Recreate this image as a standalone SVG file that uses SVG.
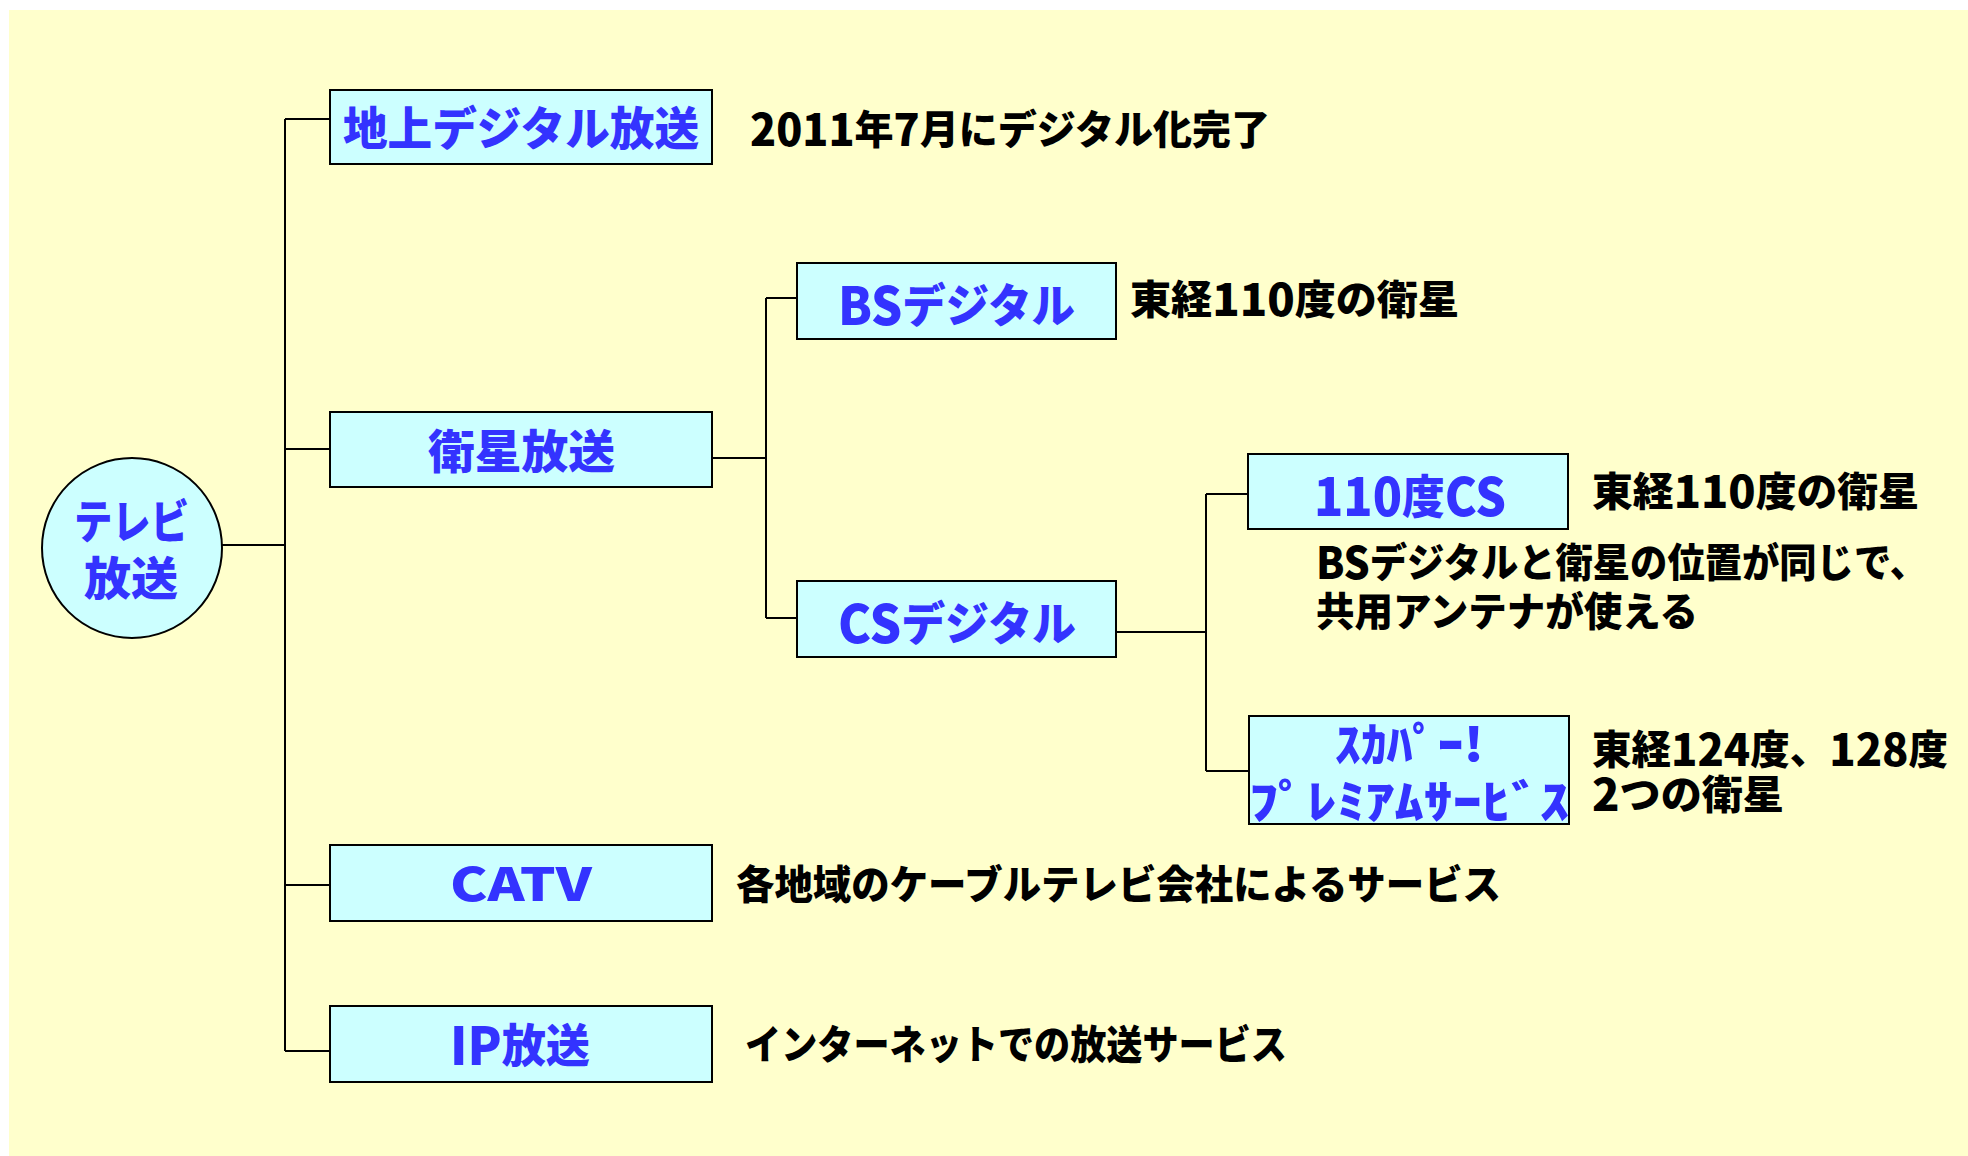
<svg xmlns="http://www.w3.org/2000/svg" width="1968" height="1156" viewBox="0 0 1968 1156">
<style>
.bg{fill:#FFFFCC}
.box{fill:#CCFFFF;stroke:#000;stroke-width:2}
.ln{stroke:#000;stroke-width:2;fill:none}
.bl{font-family:"Noto Sans CJK JP","Noto Sans",sans-serif;font-weight:900;fill:#3333FF;font-size:46px;dominant-baseline:central}
.bk{font-family:"Noto Sans CJK JP","Noto Sans",sans-serif;font-weight:900;fill:#000;font-size:40px;dominant-baseline:central}
.lat{font-size:52px}
.dg{font-size:44px}
</style>
<rect class="bg" x="9" y="10" width="1959" height="1146"/>
<g id="connectors">
<path class="ln" d="M285 119V1051M285 119H330M285 449H330M285 885H330M285 1051H330M222 545H285"/>
<path class="ln" d="M712 458H766M766 298V618M766 298H797M766 618H797"/>
<path class="ln" d="M1116 632H1206M1206 494V771M1206 494H1248M1206 771H1249"/>
</g>
<g id="tv">
<circle class="box" cx="132" cy="548" r="90"/>
<text class="bl"><tspan x="74" y="518" textLength="115" lengthAdjust="spacingAndGlyphs">テレビ</tspan><tspan x="84" y="575" textLength="94" lengthAdjust="spacingAndGlyphs">放送</tspan></text>
</g>
<g id="chijo">
<rect class="box" x="330" y="90" width="382" height="74"/>
<text class="bl" x="343" y="125" textLength="356" lengthAdjust="spacingAndGlyphs">地上デジタル放送</text>
</g>
<g id="eisei">
<rect class="box" x="330" y="412" width="382" height="75"/>
<text class="bl" x="428" y="448" textLength="187" lengthAdjust="spacingAndGlyphs">衛星放送</text>
</g>
<g id="catv">
<rect class="box" x="330" y="845" width="382" height="76"/>
<text class="bl" x="450" y="881" font-size="56" textLength="142" lengthAdjust="spacingAndGlyphs">CATV</text>
</g>
<g id="ip">
<rect class="box" x="330" y="1006" width="382" height="76"/>
<text class="bl" x="450" y="1042" textLength="140" lengthAdjust="spacingAndGlyphs"><tspan class="lat">IP</tspan>放送</text>
</g>
<g id="bs">
<rect class="box" x="797" y="263" width="319" height="76"/>
<text class="bl" x="838" y="302" textLength="237" lengthAdjust="spacingAndGlyphs"><tspan class="lat">BS</tspan>デジタル</text>
</g>
<g id="cs">
<rect class="box" x="797" y="581" width="319" height="76"/>
<text class="bl" x="838" y="620" textLength="238" lengthAdjust="spacingAndGlyphs"><tspan class="lat">CS</tspan>デジタル</text>
</g>
<g id="cs110">
<rect class="box" x="1248" y="454" width="320" height="75"/>
<text class="bl" x="1314" y="493" textLength="192" lengthAdjust="spacingAndGlyphs"><tspan class="lat">110</tspan>度<tspan class="lat">CS</tspan></text>
</g>
<g id="skyperfect">
<rect class="box" x="1249" y="716" width="320" height="108"/>
<text class="bl" font-size="44"><tspan x="1335" y="741" textLength="149" lengthAdjust="spacingAndGlyphs">ｽｶﾊﾟｰ!</tspan><tspan x="1249" y="798" textLength="320" lengthAdjust="spacingAndGlyphs">ﾌﾟﾚﾐｱﾑｻｰﾋﾞｽ</tspan></text>
</g>
<g id="notes">
<text class="bk" x="750" y="127" textLength="520" lengthAdjust="spacingAndGlyphs"><tspan class="dg">2011</tspan>年<tspan class="dg">7</tspan>月にデジタル化完了</text>
<text class="bk" x="1130" y="297" textLength="329" lengthAdjust="spacingAndGlyphs">東経<tspan class="dg">110</tspan>度の衛星</text>
<text class="bk" x="1592" y="489" textLength="327" lengthAdjust="spacingAndGlyphs">東経<tspan class="dg">110</tspan>度の衛星</text>
<text class="bk"><tspan x="1316" y="560" textLength="611" lengthAdjust="spacingAndGlyphs"><tspan class="dg">BS</tspan>デジタルと衛星の位置が同じで、</tspan><tspan x="1316" y="609" textLength="382" lengthAdjust="spacingAndGlyphs">共用アンテナが使える</tspan></text>
<text class="bk"><tspan x="1592" y="747" textLength="356" lengthAdjust="spacingAndGlyphs">東経<tspan class="dg">124</tspan>度、<tspan class="dg">128</tspan>度</tspan><tspan x="1592" y="792" textLength="192" lengthAdjust="spacingAndGlyphs"><tspan class="dg">2</tspan>つの衛星</tspan></text>
<text class="bk" x="736" y="882" textLength="765" lengthAdjust="spacingAndGlyphs">各地域のケーブルテレビ会社によるサービス</text>
<text class="bk" x="745" y="1042" textLength="542" lengthAdjust="spacingAndGlyphs">インターネットでの放送サービス</text>
</g>
</svg>
